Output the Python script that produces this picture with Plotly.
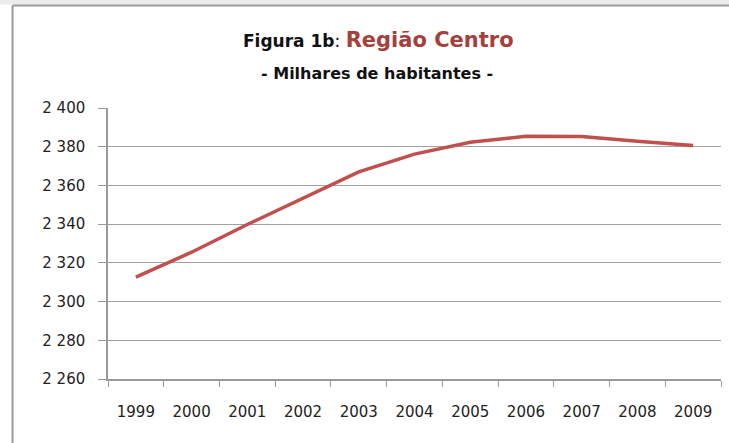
import plotly.graph_objects as go

# Região Centro population, thousands
years = ["1999", "2000", "2001", "2002", "2003", "2004", "2005", "2006", "2007", "2008", "2009"]
populacao = [2312.6, 2325.5, 2339.8, 2353.5, 2367.0, 2376.2, 2382.3, 2385.4, 2385.3, 2382.8, 2380.6]
y_ticks = [2260, 2280, 2300, 2320, 2340, 2360, 2380, 2400]

W, H = 729, 443
L, R, T, B = 108, 8, 108, 64
pw, ph = W - L - R, H - T - B
FONT = "DejaVu Sans"


def px_x(p):
    return (p - L) / pw


def px_y(p):
    return (H - B - p) / ph


fig = go.Figure()

fig.add_trace(go.Scatter(
    x=years,
    y=populacao,
    mode="lines",
    line=dict(color="#c0504d", width=3.5),
    showlegend=False,
    hoverinfo="x+y"
))

# chart frame like the spreadsheet export
fig.add_shape(type="rect", xref="paper", yref="paper",
              x0=px_x(-5), x1=px_x(W + 5), y0=px_y(4.5), y1=px_y(-5),
              fillcolor="#ececec", line=dict(width=0), layer="below")
fig.add_shape(type="line", xref="paper", yref="paper",
              x0=px_x(12.5), x1=px_x(W + 5), y0=px_y(5.5), y1=px_y(5.5),
              line=dict(color="#9a9a9a", width=2))
fig.add_shape(type="line", xref="paper", yref="paper",
              x0=px_x(12.5), x1=px_x(12.5), y0=px_y(5.5), y1=px_y(H + 5),
              line=dict(color="#9a9a9a", width=2))

fig.add_annotation(
    text="<b>Figura 1b</b>: <b><span style='color:#a5403c;font-size:21px'>Região Centro</span></b>",
    xref="paper", yref="paper", x=px_x(378), y=px_y(40),
    xanchor="center", yanchor="middle", showarrow=False,
    font=dict(family=FONT, size=17, color="#111111")
)
fig.add_annotation(
    text="<b>- Milhares de habitantes -</b>",
    xref="paper", yref="paper", x=px_x(377), y=px_y(73),
    xanchor="center", yanchor="middle", showarrow=False,
    font=dict(family=FONT, size=16, color="#111111")
)

fig.update_xaxes(
    type="category",
    range=[-0.5, 10.5],
    showline=True, linecolor="#9a9a9a", linewidth=1.5,
    ticks="outside", tickson="boundaries", ticklen=6, tickcolor="#9a9a9a",
    ticklabelstandoff=18,
    showgrid=False,
    tickfont=dict(family=FONT, size=15, color="#222222")
)
fig.update_yaxes(
    range=[2260, 2400],
    tickvals=y_ticks,
    tickformat=",d",
    showline=True, linecolor="#9a9a9a", linewidth=1.5,
    ticks="outside", ticklen=8, tickcolor="#9a9a9a",
    ticklabelstandoff=10,
    showgrid=True, gridcolor="#a0a0a0", gridwidth=1,
    zeroline=False,
    tickfont=dict(family=FONT, size=15, color="#222222")
)

fig.update_layout(
    width=W, height=H,
    margin=dict(l=L, r=R, t=T, b=B),
    separators=". ",
    paper_bgcolor="white",
    plot_bgcolor="white",
    showlegend=False
)

config = {"displayModeBar": False, "displaylogo": False}

# drop the default 8px page margin so the figure sits at the window origin
fig.write_html("out.html", config=config, post_script="document.body.style.margin='0';")
